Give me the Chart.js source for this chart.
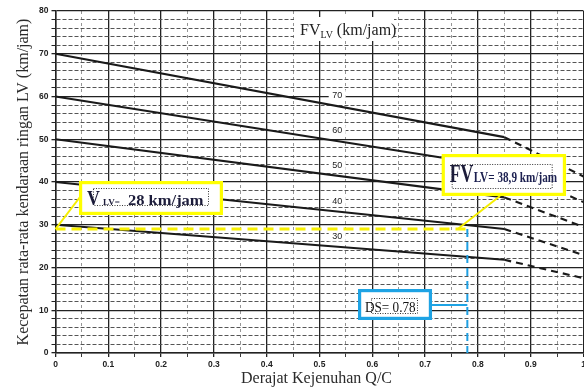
<!DOCTYPE html>
<html><head><meta charset="utf-8">
<script src="https://cdn.jsdelivr.net/npm/chart.js@4.4.0/dist/chart.umd.min.js"></script>
<style>html,body{margin:0;padding:0;background:#fff;overflow:hidden}canvas{display:block}</style>
</head><body>
<canvas id="c" width="584" height="389"></canvas>
<script>
// ---- data ----
const dsBreaks = [0, 0.85, 1.0];             // DS where lines start, turn dashed, end
const fvLabels = ['70', '60', '50', '40', '30'];
const fvAtZero = [70, 60, 50, 40, 30];
const fvAtKnee = [50.5, 43.4, 36.4, 29.0, 21.8];
const fvAtOne  = [41.3, 35.3, 29.5, 22.9, 17.5];
const dsValue = 0.78;
const vLV = 29;
const xTickLabels = ['0','0.1','0.2','0.3','0.4','0.5','0.6','0.7','0.8','0.9','1'];
const yTickLabels = ['0','10','20','30','40','50','60','70','80'];
const titleText = ['FV', 'LV', ' (km/jam)'];
const vText = ['V', 'LV=', '28 km/jam'];
const fvText = ['FV', 'LV= 38,9 km/jam'];
const dsText = 'DS= 0.78';
const xTitle = 'Derajat Kejenuhan Q/C';
const yTitle = 'Kecepatan rata-rata kendaraan ringan LV (km/jam)';

const SERIF = "'Liberation Serif','DejaVu Serif',serif";
const SANS = "'Liberation Sans','DejaVu Sans',sans-serif";

const fvDatasets = fvAtZero.map((v, i) => ({
  data: [{x: dsBreaks[0], y: v}, {x: dsBreaks[1], y: fvAtKnee[i]}, {x: dsBreaks[2], y: fvAtOne[i]}],
  showLine: true, borderColor: '#1a1a1a', borderWidth: 2.1, pointRadius: 0, tension: 0,
  segment: { borderDash: c => c.p0DataIndex >= 1 ? [7, 5] : undefined }
}));

function txt(ctx, s, x, y, font, color, sx) {
  ctx.save();
  ctx.font = font; ctx.fillStyle = color; ctx.textBaseline = 'alphabetic'; ctx.textAlign = 'left';
  ctx.translate(x, y); ctx.scale(sx || 1, 1);
  ctx.fillText(s, 0, 0);
  const w = ctx.measureText(s).width * (sx || 1);
  ctx.restore();
  return w;
}
function dotted(ctx, x0, y0, x1, y1) {
  ctx.save();
  ctx.strokeStyle = '#333'; ctx.lineWidth = 1; ctx.setLineDash([1, 1.5]);
  ctx.strokeRect(x0 + 0.5, y0 + 0.5, x1 - x0, y1 - y0);
  ctx.restore();
}

const annot = {
  vBox:  {x0: 0.0445, x1: 0.3172, y0: 40.23, y1: 32.28},
  fvBox: {x0: 0.7314, x1: 0.9669, y0: 46.55, y1: 36.73},
  dsBox: {x0: 0.5729, x1: 0.7131, y0: 14.97, y1: 7.72},
  labelX: 0.525
};

const annotPlugin = {
  id: 'annot',
  afterDatasetsDraw(chart) {
    const ctx = chart.ctx, xs = chart.scales.x, ys = chart.scales.y;
    const X = v => xs.getPixelForValue(v), Y = v => ys.getPixelForValue(v);
    function box(b, color) {
      const l = X(b.x0), r = X(b.x1), t = Y(b.y0), bt = Y(b.y1);
      ctx.save();
      ctx.fillStyle = '#fff'; ctx.fillRect(l, t, r - l, bt - t);
      ctx.strokeStyle = color; ctx.lineWidth = 3.2;
      ctx.strokeRect(l + 1.6, t + 1.6, r - l - 3.2, bt - t - 3.2);
      ctx.restore();
      return {l, t, r, b: bt};
    }
    function line(x0, y0, x1, y1, color, w) {
      ctx.save(); ctx.strokeStyle = color; ctx.lineWidth = w;
      ctx.beginPath(); ctx.moveTo(x0, y0); ctx.lineTo(x1, y1); ctx.stroke(); ctx.restore();
    }
    // title
    const tx = X(0.4574), ty = Y(74.39);
    ctx.fillStyle = '#fff'; ctx.fillRect(tx - 3, ty - 18, 100, 24);
    let cx = tx + 3;
    cx += txt(ctx, titleText[0], cx, ty, '16px ' + SERIF, '#222');
    cx += txt(ctx, titleText[1], cx, ty + 3, '10px ' + SERIF, '#222');
    txt(ctx, titleText[2], cx, ty, '16px ' + SERIF, '#222');
    // curve labels
    fvLabels.forEach((lab, i) => {
      const slope = (fvAtKnee[i] - fvAtZero[i]) / (dsBreaks[1] - dsBreaks[0]);
      const yv = fvAtZero[i] + slope * annot.labelX;
      const px = X(annot.labelX), py = Y(yv) - 10;
      ctx.fillStyle = '#fff'; ctx.fillRect(px - 4, py - 5, 17, 10);
      ctx.save(); ctx.font = '9px ' + SANS; ctx.fillStyle = '#222';
      ctx.textAlign = 'center'; ctx.textBaseline = 'middle';
      ctx.fillText(lab, px + 4.5, py); ctx.restore();
    });
    // connectors
    line(X(0.0464), Y(36.49), X(0), Y(vLV), '#f5ee00', 2);
    line(X(0.8419), Y(36.73), X(0.762), Y(vLV), '#f5ee00', 2);
    line(X(0.7131), Y(11.2), X(dsValue), Y(11.2), '#1ea3e4', 2);
    // V box
    let b = box(annot.vBox, '#ffff00');
    dotted(ctx, b.l + 14, b.t + 7, b.l + 129, b.t + 24);
    txt(ctx, vText[0], b.l + 8, b.t + 24, 'bold 21px ' + SERIF, '#1c1c3a', 0.85);
    txt(ctx, vText[1], b.l + 24, b.t + 24, 'bold 9px ' + SERIF, '#1c1c3a');
    txt(ctx, vText[2], b.l + 49, b.t + 24, 'bold 15px ' + SERIF, '#1c1c3a', 1.1);
    // FV box
    b = box(annot.fvBox, '#ffff00');
    dotted(ctx, b.l + 10, b.t + 10, b.l + 110, b.t + 34);
    txt(ctx, fvText[0], b.l + 8, b.t + 28, 'bold 26px ' + SERIF, '#1c1c3a', 0.68);
    txt(ctx, fvText[1], b.l + 32, b.t + 28, 'bold 14px ' + SERIF, '#1c2050', 0.8);
    // DS box
    b = box(annot.dsBox, '#1ea3e4');
    dotted(ctx, b.l + 13, b.t + 9, b.l + 59, b.t + 24);
    txt(ctx, dsText, b.l + 7, b.t + 23, '15px ' + SERIF, '#111', 0.88);
  },
  afterDraw(chart) {
    const ctx = chart.ctx, a = chart.chartArea;
    ctx.save();
    ctx.font = '16px ' + SERIF; ctx.fillStyle = '#2b2b2b';
    ctx.textAlign = 'center'; ctx.textBaseline = 'alphabetic';
    ctx.fillText(xTitle, (a.left + a.right) / 2 - 3, 383);
    ctx.translate(24, (a.top + a.bottom) / 2);
    ctx.rotate(-Math.PI / 2);
    ctx.font = '16px ' + SERIF; ctx.textBaseline = 'middle';
    ctx.fillText(yTitle, 0, 0);
    ctx.restore();
  }
};

const isMajorY = v => Math.round(v) % 10 === 0;
const isMajorX = v => Math.round(v * 20) % 2 === 0;

new Chart(document.getElementById('c'), {
  type: 'scatter',
  data: {
    datasets: [
      { data: [{x: 0, y: vLV}, {x: dsValue, y: vLV}], showLine: true, borderColor: '#f8f000',
        borderWidth: 3, borderDash: [10, 6], pointRadius: 0 },
      { data: [{x: dsValue, y: vLV}, {x: dsValue, y: 0}], showLine: true, borderColor: '#1e9fe2',
        borderWidth: 2, borderDash: [8, 5], pointRadius: 0 },
      ...fvDatasets
    ]
  },
  options: {
    responsive: false, animation: false, devicePixelRatio: 1,
    layout: { padding: { top: 11, left: 0, right: 0.5, bottom: 0 } },
    plugins: { legend: { display: false }, tooltip: { enabled: false } },
    scales: {
      x: {
        type: 'linear', min: 0, max: 1,
        ticks: {
          stepSize: 0.05, autoSkip: false, maxRotation: 0, padding: 3,
          font: { family: SANS, size: 8.5, weight: 'bold' }, color: '#222',
          callback: v => { const i = Math.round(v * 20); return i % 2 === 0 ? xTickLabels[i / 2] : ''; }
        },
        grid: {
          color: c => isMajorX(c.tick.value) ? '#222' : '#8a8a8a',
          lineWidth: c => isMajorX(c.tick.value) ? 1.3 : 0.9,
          tickLength: 4, tickColor: '#222', tickBorderDash: []
        },
        border: { display: true, color: '#222', width: 1.5,
          dash: c => (c.tick && !isMajorX(c.tick.value)) ? [3, 3] : [] },
        afterFit: s => { s.height = 36; s.paddingLeft = 0; s.paddingRight = 0; }
      },
      y: {
        type: 'linear', min: 0, max: 80,
        ticks: {
          stepSize: 2, autoSkip: false, padding: 3,
          font: { family: SANS, size: 8.5, weight: 'bold' }, color: '#222',
          callback: v => isMajorY(v) ? yTickLabels[Math.round(v) / 10] : ''
        },
        grid: {
          color: c => isMajorY(c.tick.value) ? '#222' : '#555',
          lineWidth: c => isMajorY(c.tick.value) ? 1.3 : 1,
          tickLength: 4, tickColor: '#222', tickBorderDash: []
        },
        border: { display: true, color: '#222', width: 1.5,
          dash: c => (c.tick && !isMajorY(c.tick.value)) ? [4, 2] : [] },
        afterFit: s => { s.width = 55.5; s.paddingTop = 0; s.paddingBottom = 0; }
      }
    }
  },
  plugins: [annotPlugin]
});
</script>
</body></html>
